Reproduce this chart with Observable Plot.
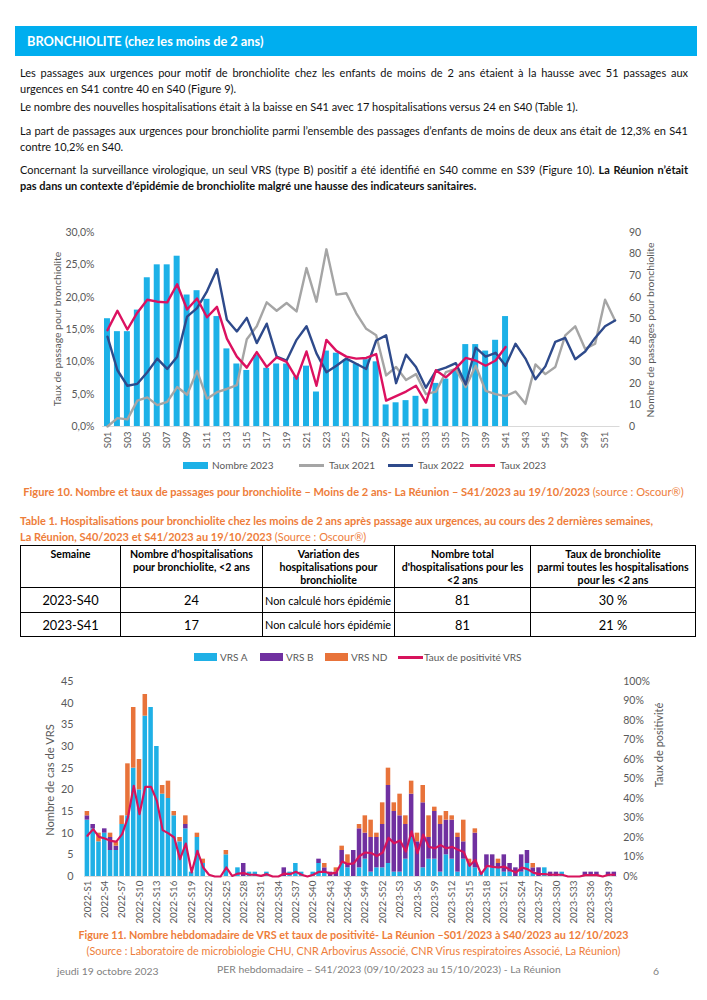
<!DOCTYPE html>
<html><head><meta charset="utf-8">
<script src="https://cdn.jsdelivr.net/npm/d3@7"></script>
<script src="https://cdn.jsdelivr.net/npm/@observablehq/plot@0.6"></script>
<style>
body{margin:0;background:#fff;}
#page{position:relative;width:707px;height:1000px;overflow:hidden;font-family:Lato,"Open Sans",sans-serif;color:#111;}
.abs{position:absolute;white-space:nowrap;}
.tl{position:absolute;left:20px;width:668px;font-size:11px;line-height:16px;height:16px;}
.just{text-align:justify;text-align-last:justify;}
.rot{position:absolute;white-space:nowrap;transform:translate(-50%,-50%) rotate(-90deg);color:#595959;}
.cap{position:absolute;left:0;width:707px;text-align:center;color:#ee7d3a;font-size:10.8px;white-space:nowrap;}
.leg{position:absolute;font-size:10px;color:#595959;white-space:nowrap;line-height:12px;}
.sw{position:absolute;}
#tbl{position:absolute;left:20px;top:545px;border-collapse:collapse;width:675px;table-layout:fixed;font-family:Lato,sans-serif;color:#000;}
#tbl td,#tbl th{border:1px solid #000;padding:0;text-align:center;white-space:nowrap;}
#tbl th{font-weight:bold;font-size:10.6px;line-height:13px;vertical-align:top;padding-top:2px;height:37px;}
#tbl td{font-size:12.8px;height:24px;}
#tbl tr.r2 td{height:23px;}
#tbl td.nc{font-size:10.9px;text-align:left;padding-left:2px;overflow:visible;}
#tbl{border:1.6px solid #000;}
svg{position:absolute;}
</style></head>
<body><div id="page">
<div class="abs" style="left:15px;top:26px;width:682px;height:30px;background:#00aeef;"></div>
<div class="abs" style="left:27px;top:32px;font-size:12.8px;font-weight:bold;color:#fff;line-height:18px;">BRONCHIOLITE (chez les moins de 2 ans)</div>

<div class="tl just" style="top:65px;">Les passages aux urgences pour motif de bronchiolite chez les enfants de moins de 2 ans étaient à la hausse avec 51 passages aux</div>
<div class="tl" style="top:81px;">urgences en S41 contre 40 en S40 (Figure 9).</div>
<div class="tl" style="top:99px;">Le nombre des nouvelles hospitalisations était à la baisse en S41 avec 17 hospitalisations versus 24 en S40 (Table 1).</div>
<div class="tl just" style="top:123px;">La part de passages aux urgences pour bronchiolite parmi l’ensemble des passages d’enfants de moins de deux ans était de 12,3% en S41</div>
<div class="tl" style="top:139px;">contre 10,2% en S40.</div>
<div class="tl just" style="top:162px;">Concernant la surveillance virologique, un seul VRS (type B) positif a été identifié en S40 comme en S39 (Figure 10). <b>La Réunion n’était</b></div>
<div class="tl" style="top:178px;font-weight:bold;">pas dans un contexte d’épidémie de bronchiolite malgré une hausse des indicateurs sanitaires.</div>

<div id="fig10"></div>
<div class="rot" style="left:57px;top:329px;font-size:10.4px;">Taux de passage pour bronchiolite</div>
<div class="rot" style="left:650px;top:330px;font-size:10.4px;">Nombre de passages pour bronchiolite</div>

<div class="sw" style="left:183px;top:462px;width:25px;height:7px;background:#1cb1e7;"></div>
<div class="leg" style="left:212px;top:459px;">Nombre 2023</div>
<div class="sw" style="left:299px;top:464px;width:25px;height:3px;background:#a5a5a5;"></div>
<div class="leg" style="left:329px;top:459px;">Taux 2021</div>
<div class="sw" style="left:388px;top:464px;width:25px;height:3px;background:#2e4a8b;"></div>
<div class="leg" style="left:418px;top:459px;">Taux 2022</div>
<div class="sw" style="left:470px;top:464px;width:25px;height:3px;background:#dc1160;"></div>
<div class="leg" style="left:500px;top:459px;">Taux 2023</div>

<div class="cap" style="top:485px;font-size:11.1px;"><b>Figure 10. Nombre et taux de passages pour bronchiolite – Moins de 2 ans- La Réunion – S41/2023 au 19/10/2023</b> (source : Oscour®)</div>
<div class="abs" style="left:20px;top:513px;color:#ee7d3a;font-size:11px;font-weight:bold;line-height:16px;">Table 1. Hospitalisations pour bronchiolite chez les moins de 2 ans après passage aux urgences, au cours des 2 dernières semaines,<br>La Réunion, S40/2023 et S41/2023 au 19/10/2023 <span style="font-weight:normal">(Source : Oscour®)</span></div>

<table id="tbl">
<colgroup><col style="width:100px"><col style="width:142px"><col style="width:132px"><col style="width:136px"><col style="width:165px"></colgroup>
<tr><th>Semaine</th><th>Nombre d'hospitalisations<br>pour bronchiolite, &lt;2 ans</th><th>Variation des<br>hospitalisations pour<br>bronchiolite</th><th>Nombre total<br>d'hospitalisations pour les<br>&lt;2 ans</th><th>Taux de bronchiolite<br>parmi toutes les hospitalisations<br>pour les &lt;2 ans</th></tr>
<tr><td>2023-S40</td><td>24</td><td class="nc">Non calculé hors épidémie</td><td>81</td><td>30 %</td></tr>
<tr class="r2"><td>2023-S41</td><td>17</td><td class="nc">Non calculé hors épidémie</td><td>81</td><td>21 %</td></tr>
</table>

<div class="sw" style="left:194px;top:653px;width:23px;height:8px;background:#1fb0e6;"></div>
<div class="leg" style="left:220px;top:651px;">VRS A</div>
<div class="sw" style="left:260px;top:653px;width:23px;height:8px;background:#7030a0;"></div>
<div class="leg" style="left:286px;top:651px;">VRS B</div>
<div class="sw" style="left:325px;top:653px;width:23px;height:8px;background:#e8733a;"></div>
<div class="leg" style="left:351px;top:651px;">VRS ND</div>
<div class="sw" style="left:398px;top:656px;width:25px;height:3px;background:#d7135c;"></div>
<div class="leg" style="left:424px;top:651px;">Taux de positivité VRS</div>

<div id="fig11"></div>
<div class="rot" style="left:49px;top:780px;font-size:11.2px;">Nombre de cas de VRS</div>
<div class="rot" style="left:658px;top:745px;font-size:11px;">Taux de positivité</div>

<div class="cap" style="top:928px;"><b>Figure 11. Nombre hebdomadaire de VRS et taux de positivité- La Réunion –S01/2023 à S40/2023 au 12/10/2023</b></div>
<div class="cap" style="top:944px;">(Source : Laboratoire de microbiologie CHU, CNR Arbovirus Associé, CNR Virus respiratoires Associé, La Réunion)</div>

<div class="abs" style="left:57px;top:965px;font-size:10.4px;color:#7f7f7f;">jeudi 19 octobre 2023</div>
<div class="abs" style="left:217px;top:963px;font-size:10.4px;color:#7f7f7f;">PER hebdomadaire – S41/2023 (09/10/2023 au 15/10/2023) - La Réunion</div>
<div class="abs" style="left:653px;top:965px;font-size:10.4px;color:#7f7f7f;">6</div>
</div>
<script>
// ---------- Figure 10 data ----------
const weeks10 = ["S01","S02","S03","S04","S05","S06","S07","S08","S09","S10","S11","S12","S13","S14","S15","S16","S17","S18","S19","S20","S21","S22","S23","S24","S25","S26","S27","S28","S29","S30","S31","S32","S33","S34","S35","S36","S37","S38","S39","S40","S41","S42","S43","S44","S45","S46","S47","S48","S49","S50","S51","S52"];
const xTicks10 = ["S01","S03","S05","S07","S09","S11","S13","S15","S17","S19","S21","S23","S25","S27","S29","S31","S33","S35","S37","S39","S41","S43","S45","S47","S49","S51"];
const nombre2023 = [50,44,44,54,69,75,75,79,61,63,59,51,36,29,26,33,27,29,29,23,28,16,35,34,31,29,31,30,10,11,12,14,8,20,22,26,38,38,35,40,51];
const taux2021 = [0,1.3,1.1,4.0,4.5,3.3,3.8,6.1,4.9,8.6,4.3,5.3,5.8,6.4,13.5,15.5,19.2,17.9,19.1,17.8,24.5,19.3,27.4,20.4,20.6,17.5,15.1,14.1,7.9,9.2,7.2,8.1,5.0,5.4,8.4,8.9,6.1,9.4,5.5,5.0,4.7,5.4,3.5,9.6,8.1,9.2,14.1,15.5,12.0,12.8,19.6,16.4];
const taux2022 = [13.9,8.7,6.3,6.6,8.4,10.5,8.9,10.8,17.0,18.3,20.9,24.3,16.5,14.7,16.8,12.9,15.9,10.8,10.2,13.4,15.5,11.3,8.4,9.4,10.5,9.7,8.9,13.3,14.1,6.7,11.1,9.2,6.0,8.6,9.1,9.8,6.5,12.2,10.8,11.4,9.4,12.8,10.5,7.3,9.3,13.1,13.7,10.4,11.6,13.7,15.5,16.4];
const taux2023 = [14.9,17.9,15.0,17.6,19.6,19.3,19.2,22.0,18.1,19.8,16.9,18.5,13.6,10.8,9.1,11.5,9.2,10.7,10.0,7.4,11.6,6.3,13.4,11.7,10.8,10.5,10.6,11.2,4.0,4.7,5.4,6.3,3.7,8.7,7.6,9.0,10.6,10.2,9.4,10.2,12.3];
const leftTicks10 = [0,5,10,15,20,25,30];
const rightTicks10 = [0,10,20,30,40,50,60,70,80,90];

// ---------- Figure 11 data ----------
const weeks11 = ["2022-S1","2022-S2","2022-S3","2022-S4","2022-S5","2022-S6","2022-S7","2022-S8","2022-S9","2022-S10","2022-S11","2022-S12","2022-S13","2022-S14","2022-S15","2022-S16","2022-S17","2022-S18","2022-S19","2022-S20","2022-S21","2022-S22","2022-S23","2022-S24","2022-S25","2022-S26","2022-S27","2022-S28","2022-S29","2022-S30","2022-S31","2022-S32","2022-S33","2022-S34","2022-S35","2022-S36","2022-S37","2022-S38","2022-S39","2022-S40","2022-S41","2022-S42","2022-S43","2022-S44","2022-S45","2022-S46","2022-S47","2022-S48","2022-S49","2022-S50","2022-S51","2022-S52","2023-S1","2023-S2","2023-S3","2023-S4","2023-S5","2023-S6","2023-S7","2023-S8","2023-S9","2023-S10","2023-S11","2023-S12","2023-S13","2023-S14","2023-S15","2023-S16","2023-S17","2023-S18","2023-S19","2023-S20","2023-S21","2023-S22","2023-S23","2023-S24","2023-S25","2023-S26","2023-S27","2023-S28","2023-S29","2023-S30","2023-S31","2023-S32","2023-S33","2023-S34","2023-S35","2023-S36","2023-S37","2023-S38","2023-S39","2023-S40"];
const xTicks11 = ["2022-S1","2022-S4","2022-S7","2022-S10","2022-S13","2022-S16","2022-S19","2022-S22","2022-S25","2022-S28","2022-S31","2022-S34","2022-S37","2022-S40","2022-S43","2022-S46","2022-S49","2022-S52","2023-S3","2023-S6","2023-S9","2023-S12","2023-S15","2023-S18","2023-S21","2023-S24","2023-S27","2023-S30","2023-S33","2023-S36","2023-S39"];
const vrsA = [13,11,8,10,6,6,12,14,25,20, 37,39,30,19,18,14,8,11,1,9, 3,0,0,0,5,0,2,0,1,1, 0,1,0,0,0,1,3,1,0,1, 3,1,0,0,3,2,0,2,4,1, 2,2,3,1,1,4,9,0,2,4, 4,1,5,4,1,4,3,2,1,2, 2,2,1,1,0,1,3,1,0,2, 0,0,1,0,0,0,0,0,0,0, 0,0];
const vrsB = [1,1,0,1,3,1,0,0,0,0, 0,0,0,0,0,0,0,1,0,0, 0,0,0,0,0,0,0,3,0,0, 0,0,0,0,2,0,0,0,0,0, 1,1,1,1,3,1,6,9,6,8, 7,10,18,14,13,8,10,8,15,5, 11,11,8,9,8,4,0,8,0,3, 3,1,4,2,2,4,3,1,2,0, 1,1,0,0,0,0,1,1,1,0, 1,1];
const vrsND = [1,0,2,0,1,1,2,12,14,7, 5,0,0,2,4,1,1,2,0,1, 1,0,0,0,1,0,0,0,0,0, 0,0,0,0,0,0,0,0,0,0, 0,1,0,1,1,2,0,1,4,4, 1,5,4,2,5,2,3,2,4,5, 1,2,2,1,1,5,1,1,0,0, 0,1,0,0,0,0,0,1,0,0, 0,0,0,0,0,0,0,0,0,0, 0,0];
const positivite = [20.9,24.3,20.3,19.5,18.3,17.9,21.7,30.3,46.5,32.0, 46.0,46.0,38.8,23.8,22.1,20.0,8.9,16.9,2.1,13.2, 4.6,0.9,0,0,4.6,0.3,1.5,1.7,0.9,0.9, 0.3,1.2,0,0,1.5,1.2,2.4,0.9,0,0.9, 2.4,2.4,1.5,2.0,7.7,6.3,6.7,10.5,12.3,12.0, 10.5,12.3,19.8,17.0,18.5,12.8,23.2,12.0,21.5,15.2, 14.5,16.1,14.5,15.2,13.7,12.6,5.5,8.5,1.2,5.5, 4.9,4.6,5.1,3.4,2.0,4.6,3.8,2.0,1.2,1.2, 0.9,0.9,0.9,0,0,0,0.7,0.7,0.7,0, 0.9,0.9];
const leftTicks11 = [0,5,10,15,20,25,30,35,40,45];
const rightTicks11 = [0,10,20,30,40,50,60,70,80,90,100];

const font = "Lato, 'Open Sans', sans-serif";

// ---------- Figure 10 ----------
const bars10 = nombre2023.map((v, i) => ({week: weeks10[i], n: v}));
const mk = (arr) => arr.map((v, i) => ({week: weeks10[i], v}));
const fig10 = Plot.plot({
  width: 707, height: 245,
  marginTop: 17, marginBottom: 34, marginLeft: 102, marginRight: 87.5,
  style: {fontFamily: font, fontSize: "10px", color: "#595959", background: "transparent"},
  x: {type: "band", domain: weeks10, paddingInner: 0.4, paddingOuter: 0.2, label: null},
  y: {domain: [0, 30], label: null},
  marks: [
    Plot.barY(bars10, {x: "week", y: d => d.n / 3, fill: "#1cb1e7"}),
    Plot.ruleY([0], {stroke: "#d9d9d9"}),
    Plot.line(mk(taux2021), {x: "week", y: "v", stroke: "#a5a5a5", strokeWidth: 2.4}),
    Plot.line(mk(taux2022), {x: "week", y: "v", stroke: "#2e4a8b", strokeWidth: 2.4}),
    Plot.line(mk(taux2023), {x: "week", y: "v", stroke: "#dc1160", strokeWidth: 2.4}),
    Plot.axisY({ticks: leftTicks10, tickSize: 0, tickPadding: 8, fontSize: 10.5, tickFormat: d => d.toFixed(1).replace(".", ",") + "%", label: null}),
    Plot.axisY({anchor: "right", ticks: rightTicks10.map(c => c / 3), tickSize: 0, tickPadding: 9, fontSize: 10.5, tickFormat: d => String(Math.round(d * 3)), label: null}),
    Plot.axisX({ticks: xTicks10, tickRotate: -90, tickSize: 0, tickPadding: 5, fontSize: 9.8, label: null})
  ]
});
fig10.style.left = "0px"; fig10.style.top = "215px";
document.getElementById("fig10").appendChild(fig10);

// ---------- Figure 11 ----------
const rows11 = [];
weeks11.forEach((w, i) => {
  rows11.push({week: w, type: "VRS A", n: vrsA[i]});
  rows11.push({week: w, type: "VRS B", n: vrsB[i]});
  rows11.push({week: w, type: "VRS ND", n: vrsND[i]});
});
const pos11 = positivite.map((p, i) => ({week: weeks11[i], p}));
const fig11 = Plot.plot({
  width: 707, height: 265,
  marginTop: 16, marginBottom: 54, marginLeft: 84, marginRight: 90.3,
  style: {fontFamily: font, fontSize: "10px", color: "#595959", background: "transparent"},
  x: {type: "band", domain: weeks11, paddingInner: 0.22, paddingOuter: 0.11, label: null},
  y: {domain: [0, 45], label: null},
  color: {domain: ["VRS A", "VRS B", "VRS ND"], range: ["#1fb0e6", "#7030a0", "#e8733a"]},
  marks: [
    Plot.barY(rows11, {x: "week", y: "n", fill: "type"}),
    Plot.ruleY([0], {stroke: "#d9d9d9"}),
    Plot.line(pos11, {x: "week", y: d => d.p * 0.45, stroke: "#d7135c", strokeWidth: 2.2}),
    Plot.axisY({ticks: leftTicks11, tickSize: 0, tickPadding: 11, fontSize: 10.8, label: null}),
    Plot.axisY({anchor: "right", ticks: rightTicks11.map(p => p * 0.45), tickSize: 0, tickPadding: 6, fontSize: 10.5, tickFormat: d => Math.round(d / 0.45) + "%", label: null}),
    Plot.axisX({ticks: xTicks11, tickRotate: -90, tickSize: 0, tickPadding: 4, fontSize: 9.8, label: null})
  ]
});
fig11.style.left = "0px"; fig11.style.top = "665px";
document.getElementById("fig11").appendChild(fig11);
</script>
</body></html>
